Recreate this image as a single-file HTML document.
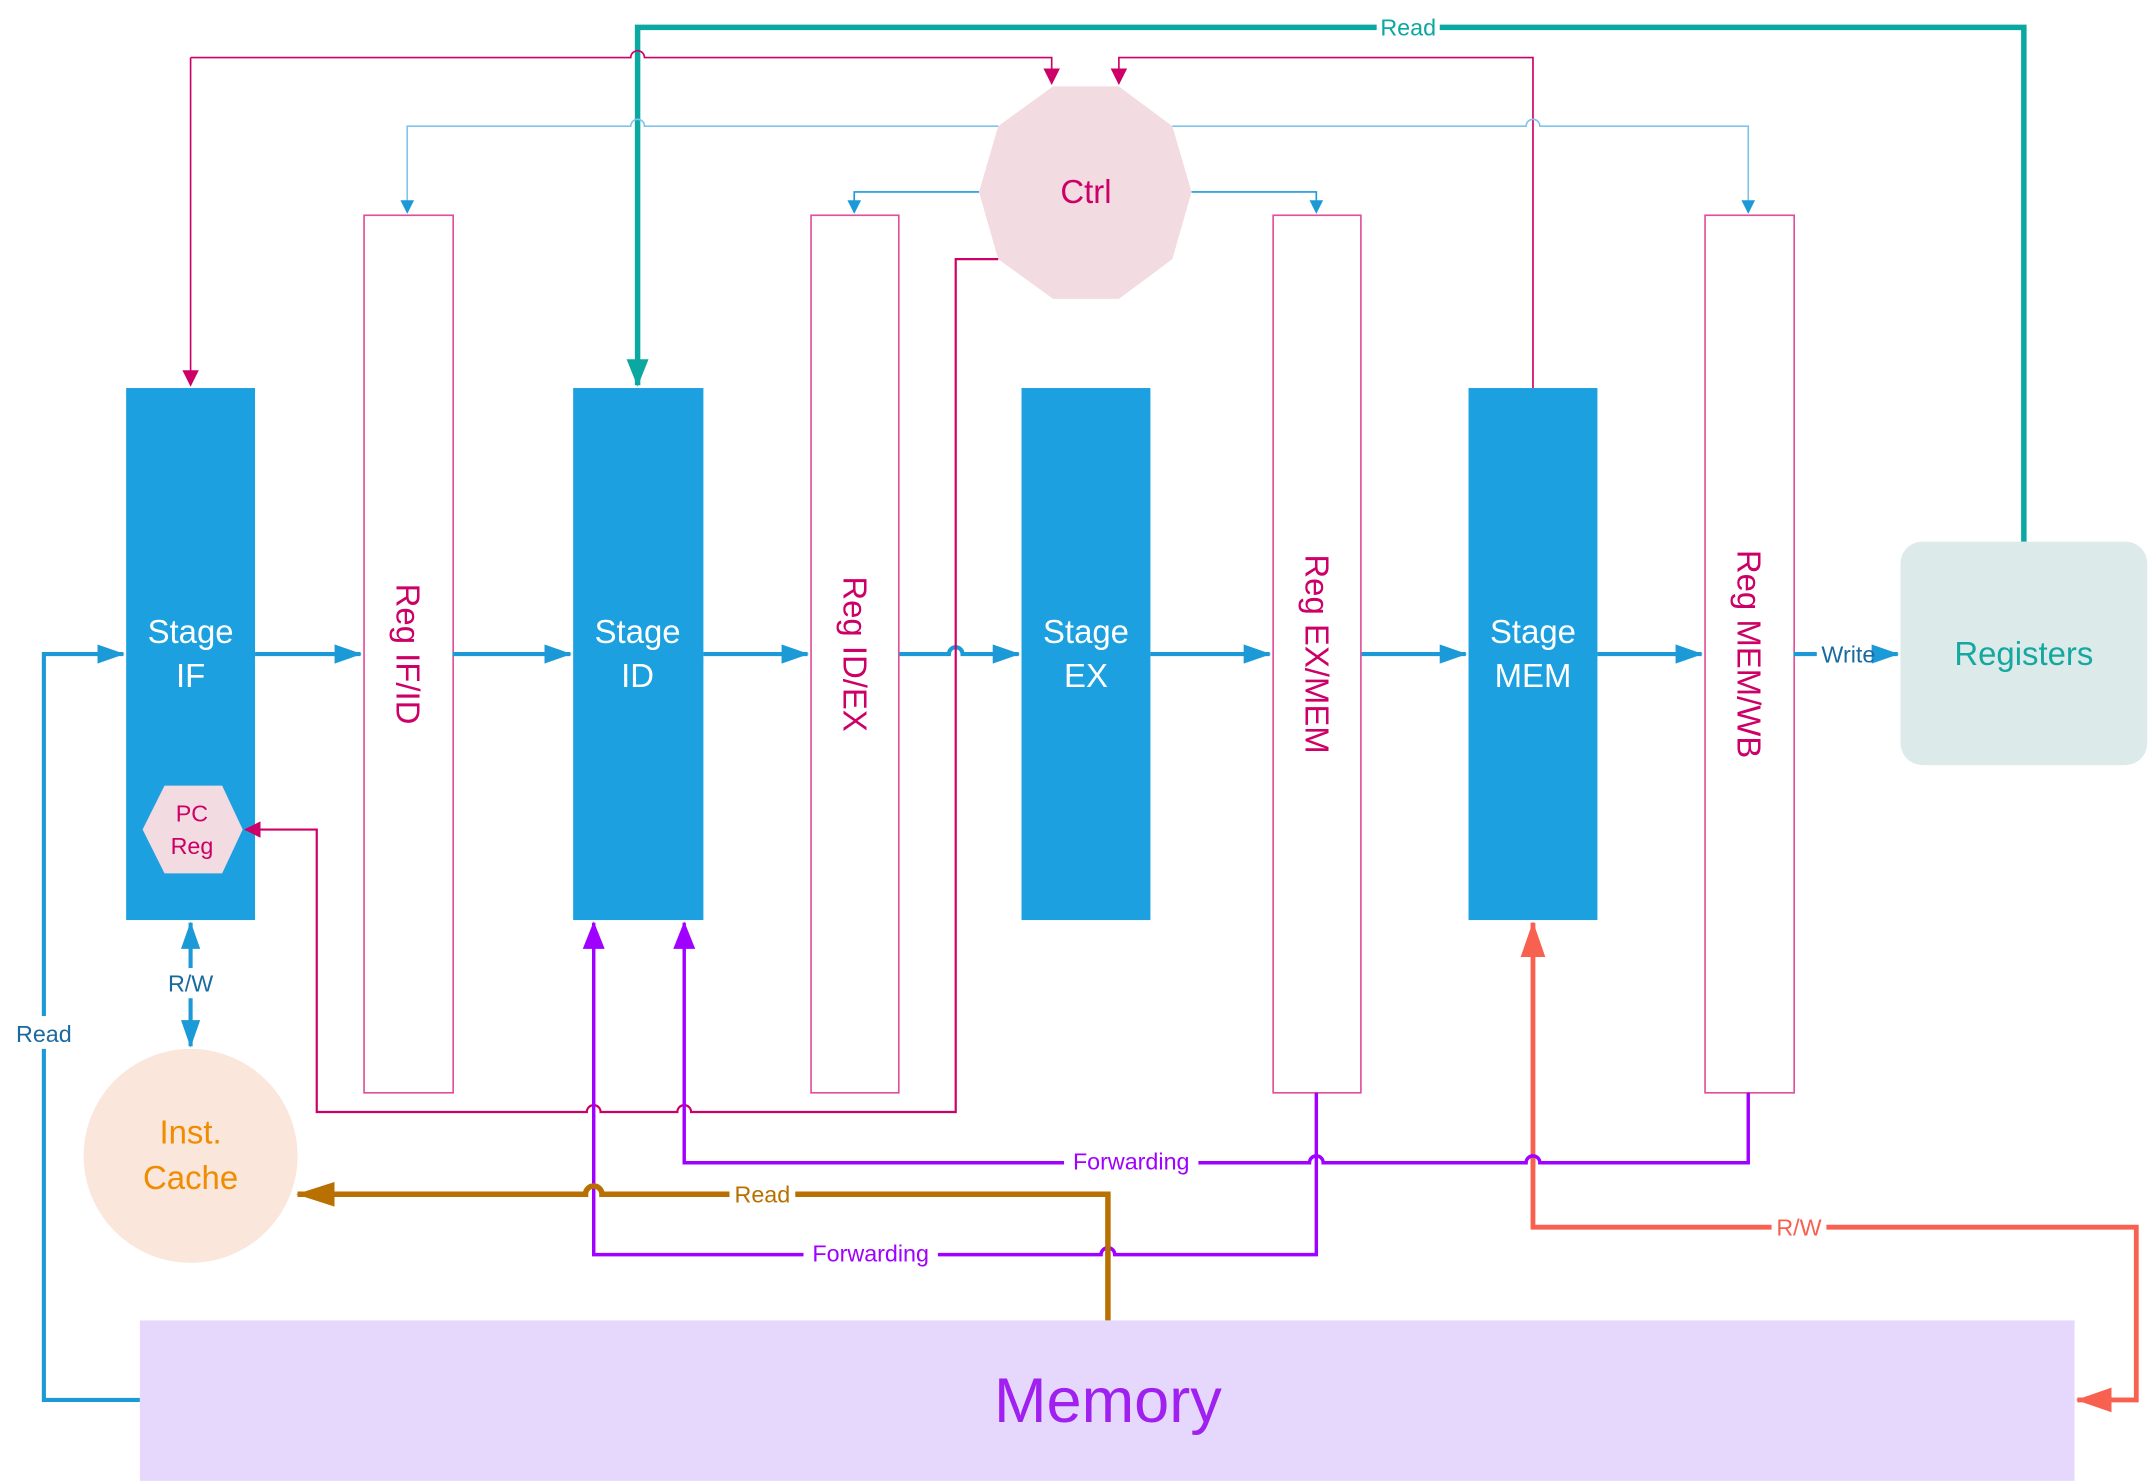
<!DOCTYPE html>
<html><head><meta charset="utf-8"><style>
html,body{margin:0;padding:0;background:#fff;}
svg{display:block;}
text{font-family:"Liberation Sans",sans-serif;}
</style></head><body>
<svg width="2150" height="1484" viewBox="0 0 1568 1082.3" preserveAspectRatio="none" xmlns="http://www.w3.org/2000/svg">
<defs>
<marker id="ab" markerWidth="10" markerHeight="10" refX="9" refY="5" orient="auto" markerUnits="userSpaceOnUse" viewBox="0 0 10 10"><path d="M0,0L10,5L0,10z" fill="#1c9ad8"/></marker>
<marker id="abL" markerWidth="20" markerHeight="14" refX="19" refY="7" orient="auto" markerUnits="userSpaceOnUse" viewBox="0 0 20 14"><path d="M0,0L20,7L0,14z" fill="#1c9ad8"/></marker>
<marker id="ap" markerWidth="12" markerHeight="12" refX="11" refY="6" orient="auto" markerUnits="userSpaceOnUse" viewBox="0 0 12 12"><path d="M0,0L12,6L0,12z" fill="#cc0066"/></marker>
<marker id="at" markerWidth="20" markerHeight="16" refX="19" refY="8" orient="auto" markerUnits="userSpaceOnUse" viewBox="0 0 20 16"><path d="M0,0L20,8L0,16z" fill="#0aa8a0"/></marker>
<marker id="av" markerWidth="20" markerHeight="16" refX="19" refY="8" orient="auto" markerUnits="userSpaceOnUse" viewBox="0 0 20 16"><path d="M0,0L20,8L0,16z" fill="#a000ff"/></marker>
<marker id="abr" markerWidth="28" markerHeight="18" refX="27" refY="9" orient="auto" markerUnits="userSpaceOnUse" viewBox="0 0 28 18"><path d="M0,0L28,9L0,18z" fill="#b87000"/></marker>
<marker id="ar" markerWidth="26" markerHeight="18" refX="25" refY="9" orient="auto" markerUnits="userSpaceOnUse" viewBox="0 0 26 18"><path d="M0,0L26,9L0,18z" fill="#f86050"/></marker>
</defs>

<rect x="92" y="283" width="94" height="388" fill="#1ca0e0"/>
<rect x="418" y="283" width="95" height="388" fill="#1ca0e0"/>
<rect x="745" y="283" width="94" height="388" fill="#1ca0e0"/>
<rect x="1071" y="283" width="94" height="388" fill="#1ca0e0"/>
<g fill="#fff" stroke="#e0509a" stroke-width="1.2">
<rect x="265.5" y="157" width="65" height="640"/>
<rect x="591.5" y="157" width="64" height="640"/>
<rect x="928.5" y="157" width="64" height="640"/>
<rect x="1243.5" y="157" width="65" height="640"/>
</g>
<rect x="1386" y="395" width="180" height="163" rx="16" fill="#dcebea"/>
<rect x="102" y="963" width="1411" height="117" fill="#e6d8fc"/>
<ellipse cx="139" cy="843" rx="78" ry="78" fill="#fae6da"/>
<polygon points="768,63 816,63 855,92 869,140 855,189 816,218 768,218 728,189 714,140 728,92" fill="#f3dbe2"/>
<polygon points="120,573 162,573 177,605 162,637 120,637 104,605" fill="#f3dbe2"/>

<g stroke="#1c9ad8" stroke-width="3" fill="none">
<path d="M186,477H263" marker-end="url(#abL)"/>
<path d="M330,477H416" marker-end="url(#abL)"/>
<path d="M513,477H589" marker-end="url(#abL)"/>
<path d="M656,477H692a5,5 0 0 1 10,0H743" marker-end="url(#abL)"/>
<path d="M839,477H926" marker-end="url(#abL)"/>
<path d="M993,477H1069" marker-end="url(#abL)"/>
<path d="M1165,477H1241" marker-end="url(#abL)"/>
<path d="M1308,477H1325M1372,477H1384" marker-end="url(#abL)"/>
<path d="M32,741V477H90" marker-end="url(#abL)"/>
<path d="M139,706V673" marker-end="url(#abL)"/>
<path d="M139,728V763" marker-end="url(#abL)"/>
<path d="M102,1021H32V765"/>
</g>
<text x="1348" y="483" font-size="17" fill="#1a6aa0" text-anchor="middle">Write</text>
<text x="32" y="760" font-size="17" fill="#1a6aa0" text-anchor="middle">Read</text>
<text x="139" y="723" font-size="17" fill="#1a6aa0" text-anchor="middle">R/W</text>

<path d="M1476,395V20H1050M1004,20H465V281" stroke="#0aa8a0" stroke-width="4" fill="none" marker-end="url(#at)"/>
<text x="1027" y="26" font-size="17" fill="#0aa8a0" text-anchor="middle">Read</text>

<g stroke="#cc0066" stroke-width="1.2" fill="none">
<path d="M139,42H460a5,5 0 0 1 10,0H767V61" marker-end="url(#ap)"/>
<path d="M1118,283V42H816V61" marker-end="url(#ap)"/>
<path d="M139,42V281" marker-end="url(#ap)"/>
</g>

<g stroke="#80c4ea" stroke-width="1.2" fill="none">
<path d="M728,92H470a5,5 0 0 0 -10,0H297V155" marker-end="url(#ab)"/>
<path d="M855,92H1113a5,5 0 0 1 10,0H1275V155" marker-end="url(#ab)"/>
</g>
<g stroke="#1c9ad8" stroke-width="1.2" fill="none">
<path d="M714,140H623V155" marker-end="url(#ab)"/>
<path d="M869,140H960V155" marker-end="url(#ab)"/>
</g>

<path d="M728,189H697V811H504a5,5 0 0 0 -10,0H438a5,5 0 0 0 -10,0H231V605H179" stroke="#cc0066" stroke-width="1.6" fill="none" marker-end="url(#ap)"/>

<path d="M1118,852V673" stroke="#f86050" stroke-width="3.5" fill="none" marker-end="url(#ar)"/>
<path d="M1118,844V895H1292M1332,895H1558V1021H1515" stroke="#f86050" stroke-width="3.5" fill="none" marker-end="url(#ar)"/>

<g stroke="#a000ff" stroke-width="2.5" fill="none">
<path d="M1275,797V848H1123a5,5 0 0 0 -10,0H965a5,5 0 0 0 -10,0H874M776,848H499V673" marker-end="url(#av)"/>
<path d="M960,797V915H813a5,5 0 0 0 -10,0H684M586,915H433V673" marker-end="url(#av)"/>
</g>
<text x="825" y="853" font-size="17" fill="#a000ff" text-anchor="middle">Forwarding</text>
<text x="635" y="920" font-size="17" fill="#a000ff" text-anchor="middle">Forwarding</text>

<path d="M808,963V871H580M532,871H439a6,6 0 0 0 -12,0H217" stroke="#b87000" stroke-width="4" fill="none" marker-end="url(#abr)"/>
<text x="556" y="877" font-size="17" fill="#b87000" text-anchor="middle">Read</text>
<text x="1312" y="901" font-size="17" fill="#f86050" text-anchor="middle">R/W</text>

<g font-size="24" fill="#fff" text-anchor="middle">
<text x="139" y="469">Stage</text><text x="139" y="501">IF</text>
<text x="465" y="469">Stage</text><text x="465" y="501">ID</text>
<text x="792" y="469">Stage</text><text x="792" y="501">EX</text>
<text x="1118" y="469">Stage</text><text x="1118" y="501">MEM</text>
</g>
<g font-size="24" fill="#cc0066" text-anchor="middle">
<text transform="translate(289,477) rotate(90)">Reg IF/ID</text>
<text transform="translate(615,477) rotate(90)">Reg ID/EX</text>
<text transform="translate(952,477) rotate(90)">Reg EX/MEM</text>
<text transform="translate(1267,477) rotate(90)">Reg MEM/WB</text>
<text x="792" y="148">Ctrl</text>
</g>
<text x="140" y="599" font-size="17" fill="#cc0066" text-anchor="middle">PC</text>
<text x="140" y="623" font-size="17" fill="#cc0066" text-anchor="middle">Reg</text>
<text x="1476" y="485" font-size="24" fill="#15a8a0" text-anchor="middle">Registers</text>
<text x="139" y="834" font-size="24" fill="#f08c00" text-anchor="middle">Inst.</text>
<text x="139" y="867" font-size="24" fill="#f08c00" text-anchor="middle">Cache</text>
<text x="808" y="1037" font-size="46" fill="#a020f0" text-anchor="middle">Memory</text>
</svg>
</body></html>
